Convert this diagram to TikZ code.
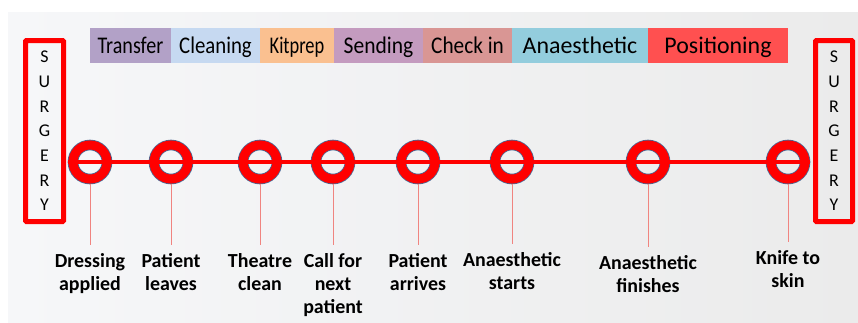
\documentclass[tikz,border=0pt]{standalone}
\usepackage{graphicx}
\usepackage{fontspec}
\setmainfont{Carlito}
\usetikzlibrary{positioning}

\definecolor{cTransfer}{HTML}{B2A1C7}
\definecolor{cCleaning}{HTML}{C6D9F1}
\definecolor{cKitprep}{HTML}{FAC090}
\definecolor{cSending}{HTML}{C49BBF}
\definecolor{cCheckin}{HTML}{D99694}
\definecolor{cAnaes}{HTML}{93CDDD}
\definecolor{cPosition}{HTML}{FF5050}
\definecolor{ringedge}{HTML}{4A6A96}
\definecolor{dropred}{HTML}{F08480}
\definecolor{bgleft}{HTML}{F6F7F9}
\definecolor{bgright}{HTML}{EBEBEB}

\newcommand{\narrowed}[2]{\scalebox{#1}[1]{#2}}

\tikzset{
  phase/.style={fill=#1, minimum height=35bp, inner sep=0pt, outer sep=0pt,
    text height=18bp, text depth=2bp, font=\fontsize{24}{26}\selectfont},
  surgbox/.style={draw=red, line width=5bp, rounded corners=1bp, inner sep=0pt,
    minimum width=38bp, minimum height=181bp, align=center,
    font=\fontsize{18}{24.8}\selectfont},
  ring/.style={circle, minimum size=34bp, inner sep=0pt, draw=ringedge,
    double=red, double distance=9bp, line width=.8bp, outer sep=5.3bp},
  event/.style={anchor=north, inner sep=0pt, align=center,
    font=\bfseries\fontsize{20}{23}\selectfont},
  timeline/.style={red, line width=4.5bp},
  drop/.style={dropred, line width=1bp, shorten >=8bp}
}

\begin{document}
\begin{tikzpicture}[x=1bp, y=-1bp]
\useasboundingbox (0,0) rectangle (858,322);
\fill[left color=bgleft, right color=bgright] (8,12) rectangle (858,322);
%
             \node [phase=cTransfer, minimum width=81bp, anchor=west] at (90,45.5) (transfer) {\narrowed{.84}{Transfer}};
             \node [phase=cCleaning, minimum width=89bp, right=0pt of transfer] (cleaning) {\narrowed{.87}{Cleaning}};
             \node [phase=cKitprep, minimum width=74bp, right=0pt of cleaning] (kitprep) {\narrowed{.77}{Kitprep}};
             \node [phase=cSending, minimum width=89bp, right=0pt of kitprep] (sending) {\narrowed{.90}{Sending}};
             \node [phase=cCheckin, minimum width=89bp, right=0pt of sending] (checkin) {\narrowed{.89}{Check in}};
             \node [phase=cAnaes, minimum width=136bp, right=0pt of checkin] (anaes) {Anaesthetic};
             \node [phase=cPosition, minimum width=140bp, right=0pt of anaes] (position) {Positioning};
%
             \node [surgbox] at (44.5,131) (surgL) {S\\U\\R\\G\\E\\R\\Y};
             \node [surgbox, minimum width=37bp] at (834,131) (surgR) {S\\U\\R\\G\\E\\R\\Y};
%
             \node [ring] at (90,162) (r1) {};
             \node [ring] at (171,162) (r2) {};
             \node [ring] at (260,162) (r3) {};
             \node [ring] at (333,162) (r4) {};
             \node [ring] at (418,162) (r5) {};
             \node [ring] at (512,162) (r6) {};
             \node [ring] at (648,162) (r7) {};
             \node [ring] at (788,162) (r8) {};
%
             \node [event] at (90,253) (dressing) {Dressing\\applied};
             \node [event] at (171,253) (leaves) {Patient\\leaves};
             \node [event] at (260,253) (clean) {Theatre\\clean};
             \node [event] at (333,253) (callnext) {Call for\\next\\patient};
             \node [event] at (418,253) (arrives) {Patient\\arrives};
             \node [event] at (512,252) (starts) {Anaesthetic\\starts};
             \node [event] at (648,255) (finishes) {Anaesthetic\\finishes};
             \node [event] at (788,250) (knife) {Knife to\\skin};
%
\draw[timeline] (r1.west) -- (r8.east);
\draw[drop] (r1.south) -- (dressing.north);
\draw[drop] (r2.south) -- (leaves.north);
\draw[drop] (r3.south) -- (clean.north);
\draw[drop] (r4.south) -- (callnext.north);
\draw[drop] (r5.south) -- (arrives.north);
\draw[drop] (r6.south) -- (starts.north);
\draw[drop] (r7.south) -- (finishes.north);
\draw[drop] (r8.south) -- (knife.north);
\end{tikzpicture}
\end{document}
